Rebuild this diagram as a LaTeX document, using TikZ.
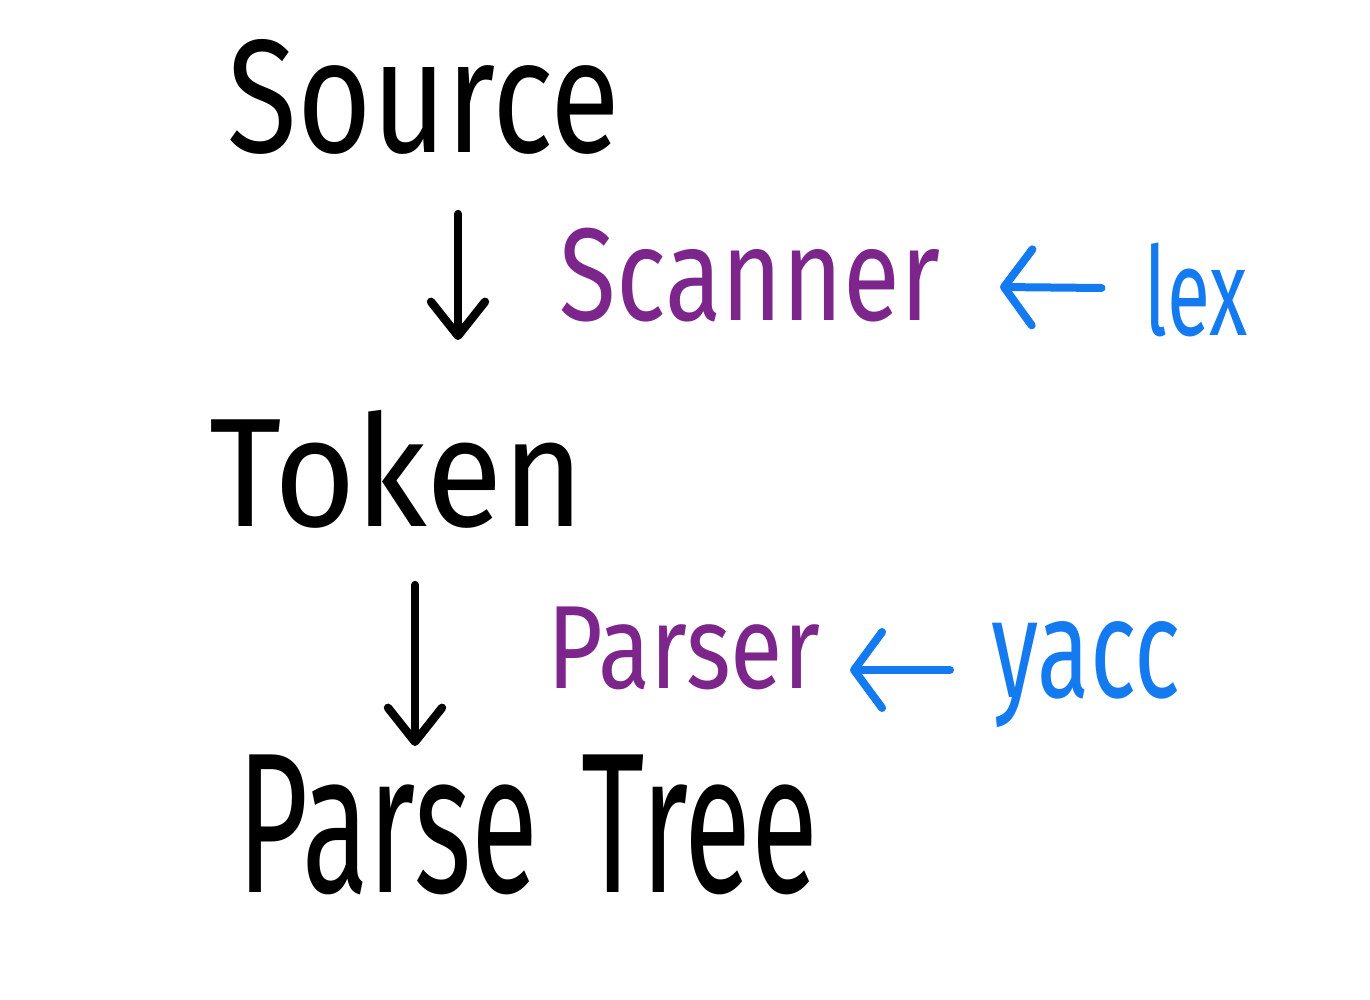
\documentclass[tikz,border=0pt]{standalone}
\usepackage{fontspec}
\setmainfont{Fira Sans}
\usepackage{graphicx}
\usetikzlibrary{arrows.meta}
\definecolor{hwpurple}{RGB}{124,38,140}
\definecolor{hwblue}{RGB}{20,122,240}
\newcommand{\fitbox}[3]{\resizebox*{#1}{#2}{#3}}
\begin{document}
\begin{tikzpicture}[x=0.5pt,y=-0.5pt,
  txt/.style={inner sep=0pt, outer sep=0pt, anchor=center},
  flow/.style={line width=4.2pt, line cap=round, line join=round,
    -{Straight Barb[length=17pt,width=27pt,line width=4.2pt,round]}},
  tool/.style={hwblue, line width=4pt, line cap=round, line join=round,
    -{Straight Barb[length=14pt,width=38pt,line width=4pt,round]}}]
\useasboundingbox (0,0) rectangle (1370,1000);
\fill[white] (0,0) rectangle (1370,1000);

\node[txt] (source) at (424,97) {\fitbox{196pt}{57.5pt}{Source}};
\node[txt] (token) at (397,469) {\fitbox{187.5pt}{59pt}{Token}};
\node[txt] (tree) at (528,825) {\fitbox{290pt}{70pt}{Parse\hspace{0.35em}Tree}};

\node[txt, text=hwpurple] (scanner) at (750,275) {\fitbox{190pt}{47pt}{Scanner}};
\node[txt, text=hwpurple] (parser) at (684,648) {\fitbox{136pt}{41.5pt}{Parser}};

\node[txt, text=hwblue] (lex) at (1196,290) {\fitbox{51.5pt}{47pt}{lex}};
\node[txt, text=hwblue] (yacc) at (1086,675) {\fitbox{94pt}{53pt}{yacc}};

\coordinate (a1s) at (458,214);
\coordinate (a1e) at (458,340);
\coordinate (a2s) at (415,585);
\coordinate (a2e) at (415,746);
\draw[flow] (a1s) -- (a1e);
\draw[flow] (a2s) -- (a2e);

\draw[tool] ([xshift=-21.5pt,yshift=1pt]lex.west) -- ([xshift=30pt,yshift=-6pt]scanner.east);
\draw[tool] ([xshift=-21pt,yshift=2.5pt]yacc.west) -- ([xshift=15pt,yshift=-11pt]parser.east);
\end{tikzpicture}
\end{document}
